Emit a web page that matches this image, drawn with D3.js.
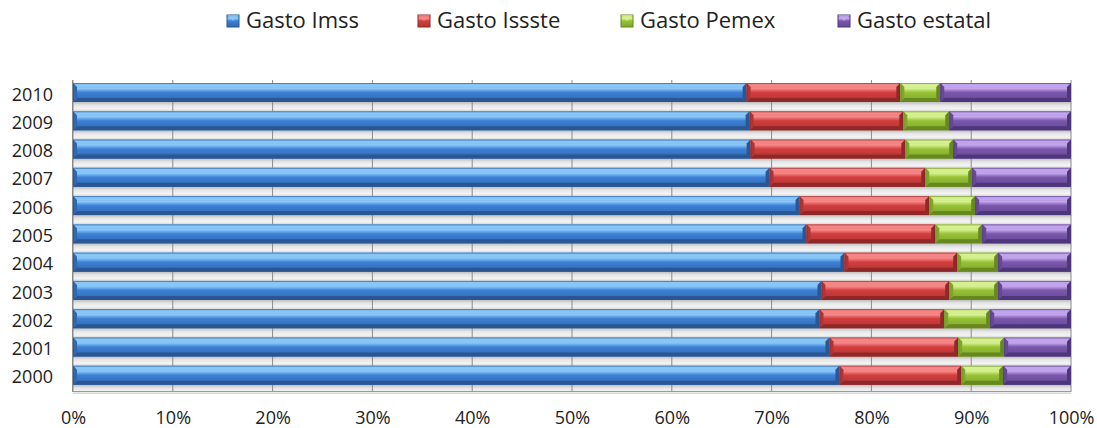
<!DOCTYPE html>
<html>
<head>
<meta charset="utf-8">
<script src="https://cdn.jsdelivr.net/npm/d3@7"></script>
<style>
  body { margin: 0; background: #fff; }
  text { font-family: "Open Sans", "Noto Sans", sans-serif; fill: #222; }
</style>
</head>
<body>
<svg id="viz" width="1097" height="428"></svg>
<script>
// values (percent of the year's total)
const years   = [2000, 2001, 2002, 2003, 2004, 2005, 2006, 2007, 2008, 2009, 2010];
const imss    = [76.8, 75.8, 74.8, 75.0, 77.3, 73.5, 72.8, 69.8, 67.9, 67.8, 67.5];
const issste  = [12.2, 12.9, 12.5, 12.8, 11.3, 12.9, 13.0, 15.6, 15.5, 15.4, 15.4];
const pemex   = [4.2, 4.6, 4.6, 4.9, 4.1, 4.7, 4.6, 4.7, 4.8, 4.6, 4.0];
const estatal = [6.8, 6.7, 8.1, 7.3, 7.3, 8.9, 9.6, 9.9, 11.8, 12.2, 13.1];
const seriesNames = ["Gasto Imss", "Gasto Issste", "Gasto Pemex", "Gasto estatal"];
const xTicks = [0, 0.1, 0.2, 0.3, 0.4, 0.5, 0.6, 0.7, 0.8, 0.9, 1];

const keys = ["imss", "issste", "pemex", "estatal"];
const rows = years.map((y, i) => ({
    year: y, imss: imss[i], issste: issste[i], pemex: pemex[i], estatal: estatal[i]
}));

// face / light / dark tones per series
const tones = [
    {face: "#3d80d6", top: "#8ccaf8", mid: "#5598e4", bot: "#2a5794", side: "#3068b0"},
    {face: "#d33d3d", top: "#f78a8a", mid: "#e05656", bot: "#8f2828", side: "#b03434"},
    {face: "#97c236", top: "#d8f294", mid: "#add455", bot: "#66891f", side: "#80a52c"},
    {face: "#7a57ab", top: "#c6a8f0", mid: "#9272c6", bot: "#4e367c", side: "#654896"}
];

const svg = d3.select("#viz");
const plotLeft = 73, plotRight = 1071, plotTop = 80, plotBottom = 391;

const x = d3.scaleLinear().domain([0, 1]).range([plotLeft, plotRight]);
const y = d3.scaleBand()
    .domain(years.slice().reverse())
    .range([plotTop, plotBottom])
    .paddingInner(0);

const stack = d3.stack().keys(keys).offset(d3.stackOffsetExpand);
const stacked = stack(rows);

const defs = svg.append("defs");
tones.forEach((t, i) => {
    const g = defs.append("linearGradient")
        .attr("id", "face" + i)
        .attr("x1", 0).attr("y1", 0).attr("x2", 0).attr("y2", 1);
    g.append("stop").attr("offset", "0%").attr("stop-color", t.mid);
    g.append("stop").attr("offset", "28%").attr("stop-color", t.top);
    g.append("stop").attr("offset", "50%").attr("stop-color", t.face);
    g.append("stop").attr("offset", "100%").attr("stop-color", t.side);
});
const floorGrad = defs.append("linearGradient")
    .attr("id", "floor")
    .attr("x1", 0).attr("y1", 0).attr("x2", 0).attr("y2", 1);
floorGrad.append("stop").attr("offset", "0%").attr("stop-color", "#bdbdbd");
floorGrad.append("stop").attr("offset", "35%").attr("stop-color", "#e6e6e6");
floorGrad.append("stop").attr("offset", "75%").attr("stop-color", "#f4f4f4");
floorGrad.append("stop").attr("offset", "100%").attr("stop-color", "#d4d4d4");

const barTop = 3, barH = 19;

// floor bands between the bars
svg.append("g").selectAll("rect")
    .data(years)
    .enter()
    .append("rect")
    .attr("x", plotLeft)
    .attr("y", (d) => y(d) + barTop + barH)
    .attr("width", plotRight - plotLeft)
    .attr("height", y.bandwidth() - barH)
    .style("fill", "url(#floor)");

// gridlines
svg.append("g").selectAll("line")
    .data(xTicks)
    .enter()
    .append("line")
    .attr("x1", (d) => x(d)).attr("x2", (d) => x(d))
    .attr("y1", plotTop).attr("y2", plotBottom + 1)
    .style("stroke", "#8a8a8a")
    .style("stroke-width", 1);

// bars with a bevel
const b = 4;
const layer = svg.append("g").selectAll("g")
    .data(stacked)
    .enter()
    .append("g");

const seg = layer.selectAll("g")
    .data((s, i) => s.map((d) => ({x0: x(d[0]), x1: x(d[1]), y0: y(d.data.year) + barTop, i})))
    .enter()
    .append("g");

seg.append("rect")
    .attr("x", (d) => d.x0).attr("y", (d) => d.y0)
    .attr("width", (d) => d.x1 - d.x0).attr("height", barH)
    .style("fill", (d) => "url(#face" + d.i + ")");

const poly = (pts) => "M" + pts.map((p) => p.join(",")).join("L") + "Z";
seg.append("path")
    .attr("d", (d) => poly([[d.x0, d.y0], [d.x1, d.y0], [d.x1 - b, d.y0 + b], [d.x0 + b, d.y0 + b]]))
    .style("fill", (d) => tones[d.i].top).style("opacity", 0.85);
seg.append("path")
    .attr("d", (d) => poly([[d.x0, d.y0 + barH], [d.x1, d.y0 + barH], [d.x1 - b, d.y0 + barH - b], [d.x0 + b, d.y0 + barH - b]]))
    .style("fill", (d) => tones[d.i].bot);
seg.append("path")
    .attr("d", (d) => poly([[d.x0, d.y0], [d.x0 + b, d.y0 + b], [d.x0 + b, d.y0 + barH - b], [d.x0, d.y0 + barH]]))
    .style("fill", (d) => tones[d.i].side);
seg.append("path")
    .attr("d", (d) => poly([[d.x1, d.y0], [d.x1 - b, d.y0 + b], [d.x1 - b, d.y0 + barH - b], [d.x1, d.y0 + barH]]))
    .style("fill", (d) => tones[d.i].bot);
seg.append("rect")
    .attr("x", (d) => d.x0 + 0.5).attr("y", (d) => d.y0 + 0.5)
    .attr("width", (d) => d.x1 - d.x0 - 1).attr("height", barH - 1)
    .style("fill", "none")
    .style("stroke", (d) => tones[d.i].bot)
    .style("stroke-opacity", 0.6);

// axes
svg.append("line")
    .attr("x1", plotLeft - 0.5).attr("x2", plotLeft - 0.5)
    .attr("y1", plotTop).attr("y2", plotBottom + 1)
    .style("stroke", "#8a8a8a");
svg.append("line")
    .attr("x1", plotLeft).attr("x2", plotRight)
    .attr("y1", plotBottom + 0.5).attr("y2", plotBottom + 0.5)
    .style("stroke", "#9a9a9a");

const yAxis = svg.append("g")
    .attr("transform", `translate(${plotLeft},0)`)
    .call(d3.axisLeft(y).tickSize(0).tickPadding(20));
yAxis.select(".domain").remove();
yAxis.selectAll("text")
    .attr("dy", "0.36em")
    .style("font-size", "18px")
    .style("font-family", "'Open Sans', 'Noto Sans', sans-serif")
    .style("fill", "#222");

const xAxis = svg.append("g")
    .attr("transform", `translate(0,${plotBottom})`)
    .call(d3.axisBottom(x).tickValues(xTicks).tickFormat(d3.format(".0%")).tickSize(0).tickPadding(20));
xAxis.select(".domain").remove();
xAxis.selectAll("text")
    .style("font-size", "18px")
    .style("font-family", "'Open Sans', 'Noto Sans', sans-serif")
    .style("fill", "#222");

// legend
const legendX = [227, 418, 621, 838];
const leg = svg.append("g").selectAll("g")
    .data(seriesNames)
    .enter()
    .append("g")
    .attr("transform", (d, i) => `translate(${legendX[i]},15)`);
leg.append("rect")
    .attr("width", 12).attr("height", 12)
    .style("fill", (d, i) => "url(#face" + i + ")")
    .style("stroke", (d, i) => tones[i].bot);
leg.append("path")
    .attr("d", "M0,0L12,0L6,6Z")
    .style("fill", (d, i) => tones[i].top)
    .style("opacity", 0.7);
leg.append("text")
    .attr("x", 19).attr("y", 13)
    .style("font-size", "22px")
    .text((d) => d);
</script>
</body>
</html>
